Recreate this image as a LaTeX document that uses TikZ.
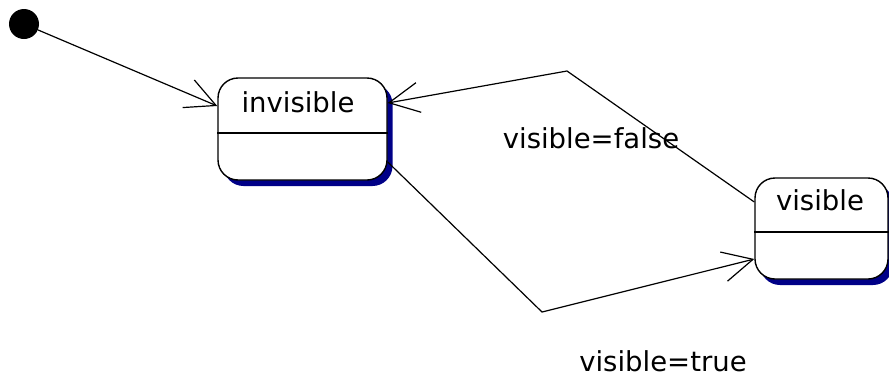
\documentclass[tikz,border=0pt]{standalone}
\usepackage{fontspec}
\setmainfont{DejaVu Sans}
\usetikzlibrary{arrows.meta}
\definecolor{shadowblue}{RGB}{0,0,135}
\tikzset{
  statebox/.style={draw=black, line width=1.4pt, fill=white, rounded corners=20pt, inner sep=0pt},
  shadowbox/.style={fill=shadowblue, rounded corners=20pt, inner sep=0pt},
  lbl/.style={anchor=base, inner sep=0pt, font=\fontsize{27.5}{32}\selectfont},
  trans/.style={line width=1.2pt, -{Straight Barb[length=30pt,width=30pt,line width=1.2pt]}},
  initdot/.style={circle, fill=black, minimum size=30pt, inner sep=0pt}
}
\begin{document}
\begin{tikzpicture}[x=1pt,y=-1pt]
\useasboundingbox (0,0) rectangle (889,378);
% shadows
\node[shadowbox, minimum width=169pt, minimum height=102pt] (invsh) at (308,135) {};
\node[shadowbox, minimum width=133pt, minimum height=101pt] (vissh) at (826.5,234.5) {};
% states
\node[statebox, minimum width=169pt, minimum height=102pt] (inv) at (302.5,129) {};
\node[statebox, minimum width=133pt, minimum height=101pt] (vis) at (821.5,228.5) {};
\draw[line width=1.4pt] ([yshift=-4pt]inv.west) -- ([yshift=-4pt]inv.east);
\draw[line width=1.4pt] ([yshift=-3.5pt]vis.west) -- ([yshift=-3.5pt]vis.east);
\node[lbl] (invtxt) at (298,112) {invisible};
\node[lbl] (vistxt) at (820,210) {visible};
% initial
\node[initdot] (init) at (24,24) {};
\draw[trans] (init) -- ([yshift=23pt]inv.west);
% transitions
\coordinate (cf) at (567,71);
\coordinate (ct) at (542,312);
\draw[trans] ([yshift=26.5pt]vis.west) -- (cf) -- ([yshift=26pt]inv.east);
\draw[trans] ([yshift=-33pt]inv.east) -- (ct) -- ([yshift=-30.5pt]vis.west);
\node[lbl] (lfalse) at (591,148) {visible=false};
\node[lbl] (ltrue) at (663,371) {visible=true};
\end{tikzpicture}
\end{document}
